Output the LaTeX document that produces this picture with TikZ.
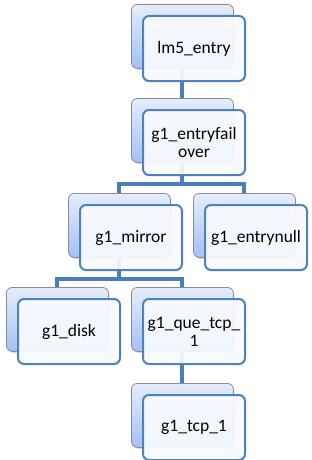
\documentclass[tikz,border=0pt]{standalone}
\usepackage{fontspec}
\setmainfont{Carlito}
\usetikzlibrary{shadows}
\definecolor{frontblue}{HTML}{4F81BD}
\definecolor{linkblue}{HTML}{4A7EBB}
\definecolor{backtop}{HTML}{E6EDFB}
\definecolor{backbot}{HTML}{A3C0F4}
\definecolor{backedge}{HTML}{8C8C8C}
\definecolor{frontfill}{HTML}{F8FAFE}
\tikzset{
  backcard/.style={draw=backedge, line width=0.8pt, rounded corners=6pt,
    top color=backtop, bottom color=backbot, minimum width=102pt,
    minimum height=64pt, anchor=north west, inner sep=0pt,
    drop shadow={shadow xshift=1pt, shadow yshift=-1.5pt, opacity=0.3}},
  frontcard/.style={draw=frontblue, line width=2pt, rounded corners=6pt,
    fill=frontfill, fill opacity=0.93, text opacity=1, draw opacity=1,
    minimum width=102pt, minimum height=65pt, anchor=north west,
    inner sep=2pt, align=center, font=\fontsize{17.5}{18}\selectfont},
  link/.style={draw=linkblue, line width=4pt}
}
\begin{document}
\begin{tikzpicture}[x=1pt,y=-1pt]
\useasboundingbox (0,0) rectangle (311,460);
% back cards
\node[backcard] (lm5b) at (131,4) {};
\node[backcard] (fob) at (131,98) {};
\node[backcard] (mirrorb) at (68,193) {};
\node[backcard] (nullb) at (193,193) {};
\node[backcard] (diskb) at (6,287) {};
\node[backcard] (queb) at (131,287) {};
\node[backcard] (tcpb) at (131,383) {};
% connectors
\draw[link] (lm5b.south) -- (fob.north);
\path (fob.south) ++(0,21) coordinate (bus1);
\draw[link] (fob.south) -- (bus1) -| (mirrorb.north);
\draw[link] (bus1) -| (nullb.north);
\path (mirrorb.south) ++(0,21) coordinate (bus2);
\draw[link] (mirrorb.south) -- (bus2) -| (diskb.north);
\draw[link] (bus2) -| (queb.north);
\draw[link] (queb.south) -- (tcpb.north);
% front cards
\node[frontcard] (lm5) at (142,15) {lm5\_entry};
\node[frontcard] (fo) at (142,109) {g1\_entryfail\\over};
\node[frontcard] (mirror) at (79,204) {g1\_mirror};
\node[frontcard] (null) at (204,204) {g1\_entrynull};
\node[frontcard] (disk) at (17,298) {g1\_disk};
\node[frontcard] (que) at (142,298) {g1\_que\_tcp\_\\1};
\node[frontcard] (tcp) at (142,394) {g1\_tcp\_1};
\end{tikzpicture}
\end{document}
